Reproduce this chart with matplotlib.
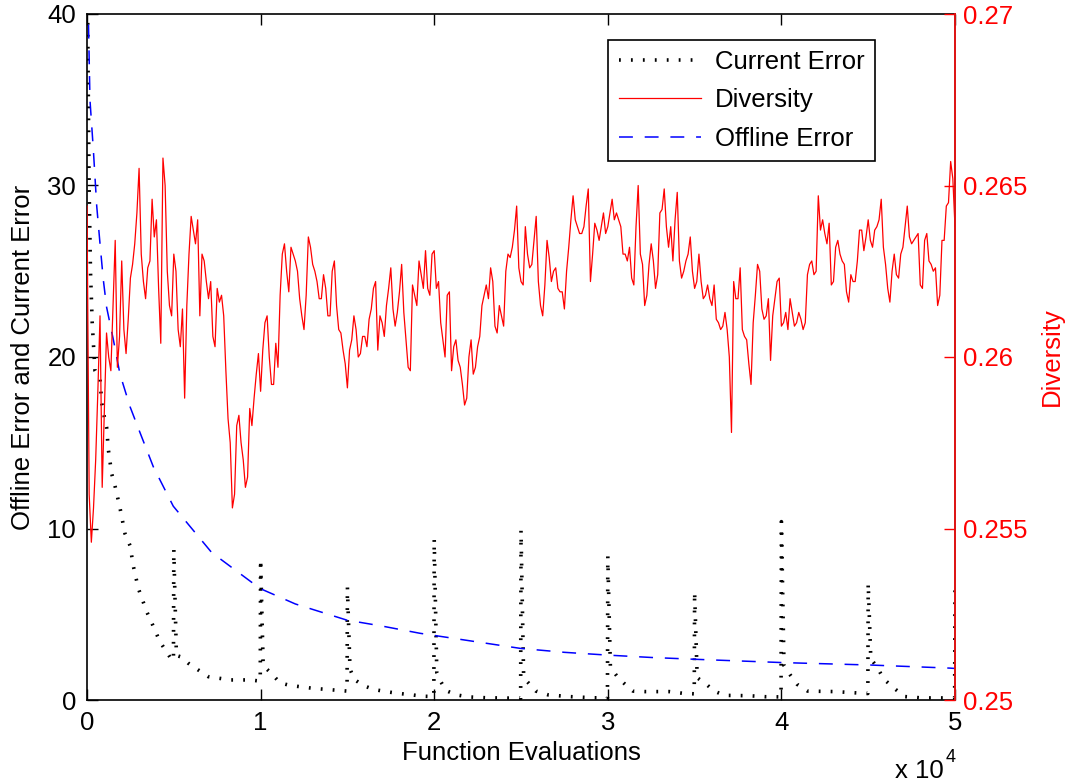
import numpy as np
import matplotlib
matplotlib.use("Agg")
import matplotlib.pyplot as plt

plt.rcParams['font.family'] = ['Liberation Sans', 'DejaVu Sans']
plt.rcParams['lines.scale_dashes'] = False

# ---------------- data ----------------
xtick_values = [0, 10000, 20000, 30000, 40000, 50000]
xtick_labels = ['0', '1', '2', '3', '4', '5']
ytick_left = [0, 10, 20, 30, 40]
ytick_right = [0.25, 0.255, 0.26, 0.265, 0.27]
ytick_right_labels = ['0.25', '0.255', '0.26', '0.265', '0.27']

# Current error (function evaluations, error)
cur_err_x = [0, 60, 120, 200, 300, 460, 750, 850, 1000, 1130, 1230, 1420, 1610, 1900, 2190,
             2480, 2670, 2960, 3440, 3730, 4200, 4780, 4980,
             5000, 5150, 5450, 5840, 6410, 6990, 7660, 8240, 9390, 9980,
             10000, 10150, 10600, 11120, 11690, 13020, 14380, 14980,
             15000, 15150, 15400, 15900, 16500, 17260, 18000, 18700, 19350, 19980,
             20000, 20150, 20380, 20680, 21270, 21970, 23000, 24980,
             25000, 25150, 25360, 25860, 26560, 27750, 29150, 29980,
             30000, 30150, 30550, 30940, 31450, 32150, 33540, 34330, 34980,
             35000, 35150, 35730, 36120, 36730, 38120, 39110, 39980,
             40000, 40150, 40510, 40910, 41510, 43110, 44700, 44980,
             45000, 45150, 45500, 45900, 46500, 47100, 48100, 49100, 49980,
             50000]
cur_err_y = [46, 37, 30, 25, 22, 19.2, 18.7, 17.3, 16.5, 15.9, 14.6, 13.2, 12.5, 11.2, 9.7,
             9.0, 7.8, 6.5, 5.15, 4.5, 3.4, 2.5, 2.3,
             8.8, 2.6, 2.5, 2.14, 1.75, 1.36, 1.26, 1.17, 1.17, 1.1,
             8.2, 2.0, 1.57, 1.0, 0.85, 0.68, 0.57, 0.52,
             6.6, 1.8, 1.2, 0.85, 0.62, 0.48, 0.38, 0.3, 0.22, 0.2,
             9.4, 1.6, 1.07, 0.55, 0.3, 0.18, 0.13, 0.1,
             9.9, 1.5, 1.07, 0.52, 0.3, 0.2, 0.13, 0.12,
             8.4, 1.9, 1.36, 0.97, 0.52, 0.49, 0.49, 0.39, 0.36,
             6.3, 1.3, 0.87, 0.52, 0.27, 0.25, 0.19, 0.18,
             10.4, 2.0, 1.46, 0.91, 0.52, 0.49, 0.39, 0.38,
             6.8, 2.4, 1.94, 1.22, 0.68, 0.2, 0.12, 0.12, 0.12,
             6.8]

# Offline error
off_err_x = [0, 75, 170, 365, 560, 750, 940, 1130, 1520, 1900, 2480, 3050, 3820, 4970,
             7180, 9970, 12000, 14960, 17000, 19180, 22000, 24960, 27500, 29950,
             32500, 35130, 40110, 45100, 49690, 50000]
off_err_y = [46, 40, 35, 32.1, 28.8, 26.6, 24.5, 22.9, 21.0, 19.0, 17.1, 15.6, 13.6, 11.3,
             8.6, 6.5, 5.6, 4.66, 4.31, 3.89, 3.46, 3.01, 2.78, 2.62,
             2.48, 2.37, 2.18, 2.04, 1.86, 1.84]

# Diversity, sampled every 125 evaluations from 0 to 50000 (one row = 1000 evaluations)
diversity_x = np.arange(0, 50001, 125)
diversity = [
    0.2644, 0.2560, 0.2546, 0.2556, 0.2570, 0.2590, 0.2612, 0.2562,
    0.2585, 0.2607, 0.2600, 0.2596, 0.2615, 0.2634, 0.2597, 0.2606,
    0.2628, 0.2608, 0.2601, 0.2611, 0.2623, 0.2627, 0.2633, 0.2642,
    0.2655, 0.2630, 0.2622, 0.2617, 0.2626, 0.2628, 0.2646, 0.2635,
    0.2640, 0.2620, 0.2604, 0.2658, 0.2650, 0.2625, 0.2615, 0.2612,
    0.2630, 0.2625, 0.2608, 0.2603, 0.2614, 0.2588, 0.2615, 0.2630,
    0.2641, 0.2637, 0.2633, 0.2640, 0.2612, 0.2630, 0.2628, 0.2622,
    0.2617, 0.2622, 0.2606, 0.2603, 0.2620, 0.2616, 0.2618, 0.2612,
    0.2596, 0.2582, 0.2575, 0.2556, 0.2560, 0.2580, 0.2583, 0.2575,
    0.2570, 0.2562, 0.2565, 0.2585, 0.2580, 0.2588, 0.2595, 0.2601,
    0.2590, 0.2602, 0.2610, 0.2612, 0.2600, 0.2592, 0.2592, 0.2604,
    0.2597, 0.2618, 0.2630, 0.2633, 0.2625, 0.2619, 0.2632, 0.2630,
    0.2628, 0.2625, 0.2617, 0.2612, 0.2608, 0.2618, 0.2635, 0.2632,
    0.2627, 0.2625, 0.2622, 0.2617, 0.2617, 0.2624, 0.2620, 0.2612,
    0.2612, 0.2625, 0.2628, 0.2615, 0.2608, 0.2607, 0.2602, 0.2598,
    0.2591, 0.2602, 0.2605, 0.2612, 0.2608, 0.2600, 0.2601, 0.2606,
    0.2606, 0.2603, 0.2611, 0.2614, 0.2620, 0.2622, 0.2602, 0.2612,
    0.2610, 0.2606, 0.2615, 0.2620, 0.2626, 0.2614, 0.2609, 0.2613,
    0.2619, 0.2627, 0.2613, 0.2605, 0.2597, 0.2596, 0.2621, 0.2618,
    0.2615, 0.2628, 0.2624, 0.2620, 0.2631, 0.2620, 0.2618, 0.2630,
    0.2631, 0.2620, 0.2622, 0.2610, 0.2605, 0.2600, 0.2618, 0.2619,
    0.2596, 0.2603, 0.2605, 0.2599, 0.2597, 0.2592, 0.2586, 0.2588,
    0.2600, 0.2605, 0.2595, 0.2597, 0.2603, 0.2606, 0.2615, 0.2618,
    0.2621, 0.2617, 0.2626, 0.2622, 0.2609, 0.2607, 0.2615, 0.2612,
    0.2609, 0.2625, 0.2630, 0.2629, 0.2632, 0.2637, 0.2644, 0.2626,
    0.2622, 0.2621, 0.2638, 0.2630, 0.2626, 0.2627, 0.2634, 0.2641,
    0.2622, 0.2615, 0.2612, 0.2621, 0.2634, 0.2629, 0.2622, 0.2625,
    0.2626, 0.2620, 0.2619, 0.2619, 0.2614, 0.2625, 0.2632, 0.2640,
    0.2647, 0.2640, 0.2638, 0.2636, 0.2636, 0.2638, 0.2644, 0.2649,
    0.2622, 0.2630, 0.2639, 0.2637, 0.2634, 0.2638, 0.2642, 0.2636,
    0.2638, 0.2642, 0.2646, 0.2640, 0.2642, 0.2640, 0.2638, 0.2630,
    0.2630, 0.2628, 0.2632, 0.2623, 0.2621, 0.2638, 0.2650, 0.2630,
    0.2627, 0.2615, 0.2618, 0.2627, 0.2633, 0.2628, 0.2620, 0.2624,
    0.2642, 0.2643, 0.2649, 0.2638, 0.2632, 0.2638, 0.2628, 0.2640,
    0.2648, 0.2628, 0.2623, 0.2625, 0.2628, 0.2630, 0.2635, 0.2625,
    0.2620, 0.2622, 0.2630, 0.2622, 0.2617, 0.2618, 0.2621, 0.2617,
    0.2615, 0.2621, 0.2611, 0.2610, 0.2608, 0.2609, 0.2613, 0.2608,
    0.2600, 0.2578, 0.2622, 0.2617, 0.2617, 0.2626, 0.2608, 0.2606,
    0.2605, 0.2598, 0.2592, 0.2610, 0.2618, 0.2627, 0.2625, 0.2614,
    0.2611, 0.2612, 0.2617, 0.2599, 0.2612, 0.2617, 0.2622, 0.2623,
    0.2609, 0.2610, 0.2613, 0.2608, 0.2617, 0.2613, 0.2609, 0.2610,
    0.2613, 0.2611, 0.2608, 0.2610, 0.2624, 0.2627, 0.2628, 0.2624,
    0.2625, 0.2647, 0.2637, 0.2640, 0.2636, 0.2633, 0.2639, 0.2621,
    0.2622, 0.2632, 0.2634, 0.2630, 0.2628, 0.2627, 0.2619, 0.2616,
    0.2624, 0.2622, 0.2622, 0.2628, 0.2637, 0.2637, 0.2631, 0.2635,
    0.2640, 0.2634, 0.2632, 0.2637, 0.2638, 0.2640, 0.2646, 0.2632,
    0.2627, 0.2620, 0.2616, 0.2625, 0.2630, 0.2624, 0.2623, 0.2630,
    0.2632, 0.2638, 0.2644, 0.2635, 0.2633, 0.2634, 0.2635, 0.2636,
    0.2621, 0.2620, 0.2634, 0.2636, 0.2628, 0.2627, 0.2625, 0.2626,
    0.2615, 0.2618, 0.2634, 0.2634, 0.2644, 0.2645, 0.2657, 0.2652,
    0.2638,
]

labels = ['Current Error', 'Diversity', 'Offline Error']

# ---------------- figure ----------------
W, H = 1069, 784
fig = plt.figure(figsize=(W / 100, H / 100), dpi=100)
ax_l, ax_r, ax_t, ax_b = 87, 955, 14, 700
rect = [ax_l / W, 1 - ax_b / H, (ax_r - ax_l) / W, (ax_b - ax_t) / H]
ax1 = fig.add_axes(rect)
ax2 = ax1.twinx()

FS = 18.5

l_ce, = ax1.plot(cur_err_x, cur_err_y, color='black', lw=2.6,
                 linestyle=(0, (1.3, 7.3)), dash_capstyle='butt', solid_capstyle='butt')
l_oe, = ax1.plot(off_err_x, off_err_y, color='blue', lw=1.1,
                 linestyle=(0, (10, 8.5)))
l_div, = ax2.plot(diversity_x, diversity, color='red', lw=0.9)

ax1.set_xlim(0, 50000)
ax1.set_ylim(0, 40)
ax2.set_ylim(0.25, 0.27)

ax1.set_xticks(xtick_values)
ax1.set_xticklabels(xtick_labels)
ax1.set_yticks(ytick_left)
ax1.set_yticklabels([str(v) for v in ytick_left])
ax2.set_yticks(ytick_right)
ax2.set_yticklabels(ytick_right_labels)

ax1.tick_params(axis='both', direction='in', length=8, width=1.0, labelsize=FS, colors='black')
ax1.tick_params(axis='x', top=True, pad=8)
ax1.tick_params(axis='y', left=True, right=False, pad=8)
ax2.tick_params(axis='y', direction='in', length=8, width=1.0, labelsize=FS,
                colors='red', pad=6)

for s in ['left', 'bottom', 'top']:
    ax1.spines[s].set_linewidth(1.2)
    ax1.spines[s].set_color('black')
ax1.spines['right'].set_visible(False)
ax2.spines['right'].set_color('#dd1111')
ax2.spines['right'].set_linewidth(1.4)
for s in ['left', 'bottom', 'top']:
    ax2.spines[s].set_visible(False)

ax1.set_xlabel('Function Evaluations', fontsize=FS, labelpad=4)
ax1.set_ylabel('Offline Error and Current Error', fontsize=FS, labelpad=9)
ax2.set_ylabel('Diversity', fontsize=FS, color='red', labelpad=9)

fig.text(895 / W, 1 - 771 / H, 'x 10', fontsize=FS, ha='left', va='center')
fig.text(946 / W, 1 - 758 / H, '4', fontsize=13, ha='left', va='center')

leg = ax2.legend([l_ce, l_div, l_oe], labels, loc='upper right',
                 bbox_to_anchor=(875 / W, 1 - 40 / H), bbox_transform=fig.transFigure,
                 borderaxespad=0, fontsize=FS, frameon=True, fancybox=False,
                 framealpha=1, edgecolor='black', handlelength=3.2,
                 handletextpad=0.55, labelspacing=0.55, borderpad=0.4)
leg.get_frame().set_linewidth(1.2)

fig.savefig('out.png', dpi=100)
